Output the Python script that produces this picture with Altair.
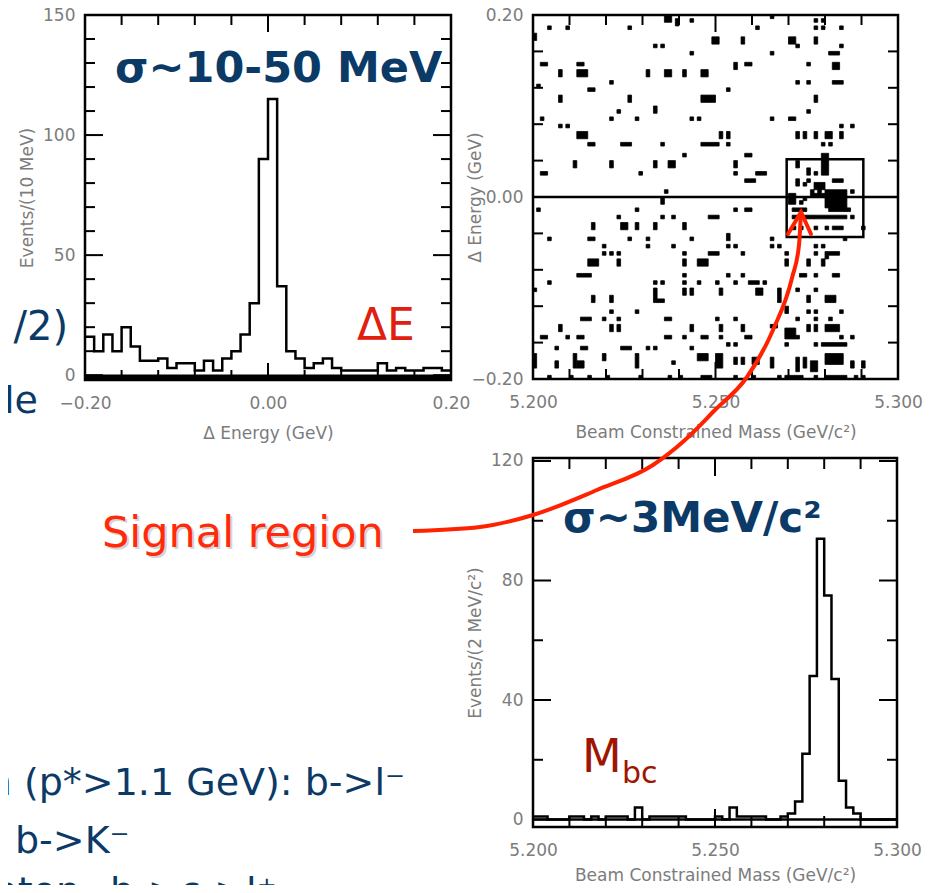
import altair as alt
import pandas as pd

W, H = 925, 877
FONT_ANN = "Comic Sans MS, DejaVu Sans"
AX_FONT = "DejaVu Sans"
AX_COL = "#7c7c7c"
NAVY = "#0b3a67"

# ---------------- data ----------------
# Delta E histogram: 10 MeV bins starting at -0.20 GeV
de_start = -0.20
de_width = 0.01
de_counts = [16, 10, 17, 10, 20, 12, 6, 6, 7, 3,
             5, 5, 2, 6, 2, 7, 10, 17, 30, 90,
             115, 37, 10, 7, 3, 5, 7, 3, 2, 2,
             2, 2, 5, 2, 3, 2, 2, 3, 3, 2]

# Mbc histogram: 2 MeV/c^2 bins starting at 5.200
mbc_start = 5.200
mbc_width = 0.002
mbc_counts = [1, 1, 0, 0, 0, 1, 1, 0, 1, 0,
              1, 1, 1, 0, 4, 0, 1, 1, 1, 1,
              1, 0, 0, 0, 0, 1, 0, 4, 1, 1,
              1, 1, 0, 0, 1, 2, 6, 22, 48, 94,
              75, 47, 13, 4, 2, 0, 0, 0, 0, 0]

# scatter cells (mass bin of 1 MeV, dE bin of 4 MeV, width, height in bins)
cells_upper_left = [
    (4, 96, 1, 1), (9, 96, 1, 1), (26, 96, 1, 1), (36, 98, 2, 2), (39, 97, 1, 2), (43, 98, 1, 1),
    (49, 92, 2, 2), (0, 93, 1, 2), (33, 91, 1, 1), (35, 91, 1, 1), (43, 89, 1, 1),
    (2, 86, 2, 1), (12, 86, 2, 1),
    (7, 83, 1, 2), (12, 83, 3, 2), (31, 83, 1, 2), (36, 83, 2, 2), (41, 83, 1, 2), (46, 83, 2, 2),
    (21, 81, 1, 1), (1, 80, 1, 1), (15, 79, 2, 1),
    (7, 76, 1, 2), (26, 76, 1, 2), (46, 76, 4, 2),
    (23, 73, 1, 1), (33, 73, 1, 2),
    (21, 71, 1, 1), (28, 71, 1, 1), (43, 71, 1, 1), (45, 71, 1, 1), (2, 71, 1, 1),
    (7, 69, 1, 1), (9, 69, 1, 1), (12, 66, 3, 2),
    (15, 64, 2, 1), (24, 64, 3, 1), (35, 64, 1, 1), (46, 64, 4, 1),
    (41, 61, 1, 1), (11, 58, 1, 2), (21, 58, 1, 2), (33, 58, 1, 2), (37, 58, 2, 2),
    (2, 56, 2, 1), (29, 56, 1, 1), (36, 51, 1, 1),
]
cells_upper_right = [
    (61, 96, 1, 1), (65, 99, 1, 1), (77, 98, 1, 1), (79, 98, 1, 1), (77, 96, 1, 1), (79, 96, 1, 1),
    (84, 96, 1, 1), (57, 92, 1, 2), (70, 92, 2, 2), (77, 92, 1, 2), (72, 91, 1, 1),
    (84, 91, 1, 1), (65, 89, 1, 1), (81, 89, 3, 1),
    (55, 85, 1, 2), (58, 86, 2, 1), (75, 86, 1, 1), (82, 85, 2, 2),
    (72, 81, 1, 1), (75, 81, 1, 1), (82, 81, 3, 1), (53, 79, 1, 1),
    (77, 76, 1, 2), (75, 73, 1, 1), (65, 71, 1, 1), (70, 71, 2, 1),
    (84, 69, 1, 1), (87, 69, 1, 1),
    (51, 66, 1, 2), (53, 66, 1, 2), (72, 66, 1, 2), (74, 66, 1, 2), (77, 66, 1, 2), (80, 66, 2, 2),
    (84, 66, 1, 2), (50, 64, 1, 1), (53, 64, 1, 1), (79, 64, 1, 1), (81, 64, 1, 1),
    (58, 61, 2, 1), (55, 58, 1, 2), (55, 56, 1, 1), (61, 56, 3, 1), (58, 54, 3, 1),
    (79, 56, 2, 6), (72, 58, 1, 2), (75, 56, 1, 2), (77, 56, 1, 1), (72, 54, 1, 1), (75, 54, 1, 1),
    (82, 54, 3, 1),
]
cells_signal = [
    (72, 53, 1, 1), (74, 53, 1, 1), (77, 52, 3, 2),
    (76, 50, 1, 2), (78, 50, 1, 2), (80, 50, 1, 2), (77, 50, 1, 1), (79, 50, 1, 1),
    (81, 46, 5, 6), (80, 47, 1, 3), (87, 51, 1, 1),
    (70, 48, 2, 3), (73, 48, 1, 1), (74, 49, 1, 1), (74, 46, 1, 1),
    (71, 46, 3, 1), (71, 44, 6, 1), (77, 44, 9, 1), (86, 46, 1, 1), (87, 44, 1, 1),
    (71, 41, 1, 1), (73, 41, 1, 1), (77, 41, 1, 1), (80, 41, 1, 1), (82, 41, 3, 1), (90, 41, 1, 1),
    (85, 38, 1, 1),
]
cells_lower_right = [
    (55, 46, 1, 1), (58, 46, 2, 1), (50, 44, 1, 1), (53, 38, 1, 2),
    (65, 38, 1, 1), (65, 36, 1, 1), (67, 36, 1, 1), (53, 36, 1, 1), (55, 36, 1, 1), (77, 36, 1, 1),
    (79, 36, 1, 1), (50, 34, 1, 1), (57, 34, 1, 1), (69, 34, 1, 1), (77, 34, 1, 1), (80, 34, 4, 1),
    (80, 33, 1, 1), (69, 31, 1, 2), (75, 31, 1, 2), (79, 31, 1, 2),
    (53, 28, 1, 1), (57, 28, 1, 1), (73, 28, 2, 1), (77, 28, 1, 1), (82, 28, 2, 1),
    (50, 26, 1, 1), (55, 26, 1, 1), (59, 26, 3, 1), (63, 26, 1, 1),
    (51, 23, 1, 2), (61, 23, 2, 2), (67, 21, 1, 4), (72, 24, 1, 1), (77, 24, 1, 1), (75, 21, 1, 2),
    (80, 21, 3, 2), (69, 18, 1, 2), (75, 18, 1, 1), (77, 18, 1, 1), (84, 18, 1, 1),
    (50, 16, 1, 1), (55, 16, 1, 1), (72, 16, 1, 1), (77, 16, 1, 1), (81, 16, 1, 1),
    (51, 13, 1, 2), (57, 13, 1, 2), (65, 14, 2, 1), (69, 11, 3, 3), (75, 13, 1, 2), (77, 13, 1, 2),
    (80, 13, 4, 2), (84, 11, 1, 1), (87, 11, 1, 1), (51, 11, 1, 1), (58, 11, 2, 1), (72, 11, 1, 1),
    (79, 9, 7, 1), (53, 9, 1, 1), (55, 9, 1, 1), (69, 9, 1, 1), (77, 9, 1, 1),
    (50, 3, 2, 4), (55, 4, 1, 2), (57, 4, 1, 2), (60, 4, 2, 2), (65, 3, 1, 3),
    (72, 2, 1, 4), (74, 3, 1, 3), (76, 2, 2, 3), (80, 4, 5, 3), (87, 3, 1, 2), (90, 3, 1, 2),
    (55, 0, 1, 1), (60, 0, 1, 1), (67, 0, 1, 1), (69, 0, 5, 1), (77, 0, 1, 1), (80, 0, 6, 1),
    (88, 0, 1, 1), (90, 0, 1, 1),
]
cells_lower_left = [
    (35, 48, 1, 2), (1, 46, 1, 1), (28, 46, 1, 1),
    (23, 44, 1, 1), (35, 44, 1, 1), (38, 44, 1, 1), (48, 44, 2, 1),
    (16, 41, 1, 2), (24, 41, 2, 2), (28, 41, 1, 2), (33, 41, 1, 2), (41, 41, 1, 2),
    (4, 38, 1, 1), (15, 38, 2, 1), (26, 38, 1, 1), (31, 38, 1, 1), (43, 38, 1, 1),
    (19, 36, 1, 1), (31, 36, 1, 1), (38, 36, 1, 1),
    (19, 34, 1, 1), (21, 34, 1, 1), (23, 34, 1, 1), (41, 34, 1, 1), (48, 34, 2, 1),
    (15, 31, 3, 2), (23, 31, 1, 2), (41, 31, 1, 2), (45, 31, 3, 2),
    (12, 28, 4, 1), (41, 28, 1, 1),
    (4, 26, 1, 1), (33, 26, 1, 1), (35, 26, 1, 1), (41, 26, 1, 1), (45, 26, 1, 1),
    (0, 24, 1, 1), (41, 23, 1, 2), (43, 23, 1, 2),
    (33, 21, 1, 4), (34, 21, 2, 1), (16, 21, 1, 2), (21, 21, 1, 2),
    (21, 18, 1, 1), (28, 18, 1, 1),
    (13, 16, 3, 1), (19, 16, 1, 1), (23, 16, 1, 1), (36, 16, 2, 1),
    (7, 13, 1, 2), (21, 13, 1, 2), (23, 13, 1, 2), (43, 13, 1, 2),
    (2, 11, 2, 1), (9, 11, 1, 1), (12, 11, 2, 1), (36, 11, 2, 1), (41, 11, 1, 1), (46, 11, 2, 1),
    (6, 8, 1, 1), (13, 8, 2, 1), (24, 8, 3, 1), (31, 8, 1, 1), (33, 8, 1, 1), (43, 8, 1, 1),
    (0, 3, 1, 4), (6, 3, 1, 2), (11, 3, 1, 4), (12, 3, 2, 2), (19, 5, 1, 2), (28, 3, 1, 4),
    (38, 4, 1, 1), (45, 5, 3, 2),
    (4, 0, 1, 1), (10, 0, 1, 1), (15, 0, 1, 1), (20, 0, 1, 1), (29, 0, 1, 1), (37, 0, 1, 1),
    (40, 0, 1, 1), (46, 0, 3, 1),
]
signal_box = {"m0": 5.2695, "m1": 5.2905, "d0": -0.044, "d1": 0.0415}

# tick values / labels
p1_xlabels = [-0.20, 0.00, 0.20]
p1_xminor = [-0.16, -0.12, -0.08, -0.04, 0.04, 0.08, 0.12, 0.16]
p1_xmajor = [0.0]
p1_ylabels = [0, 50, 100, 150]
p1_yminor = [10, 20, 30, 40, 60, 70, 80, 90, 110, 120, 130, 140]
m_xlabels = [5.200, 5.250, 5.300]
m_xminor = [5.21, 5.22, 5.23, 5.24, 5.26, 5.27, 5.28, 5.29]
m_xmajor = [5.25]
p2_ylabels = [-0.20, 0.00, 0.20]
p2_yminor = [-0.16, -0.12, -0.08, -0.04, 0.04, 0.08, 0.12, 0.16]
p2_ymajor = [0.0]
p3_ylabels = [0, 40, 80, 120]
p3_yminor = [20, 60, 100]

# arrow path (annotation, in pixel space of the canvas)
arrow_x = [405, 472, 525, 589, 645, 677, 707, 739, 765, 784, 791, 793]
arrow_y = [523, 519, 507, 482, 457, 432, 402, 369, 322, 270, 237, 204]
head_x = [780, 793, 803]
head_y = [226, 204, 226]

# ---------------- panel geometry ----------------
P1 = dict(xdom=[-0.2, 0.2], xr=[77, 443], ydom=[-2, 150], yr=[372, 7])
P2 = dict(xdom=[5.2, 5.3], xr=[525, 890], ydom=[-0.2, 0.2], yr=[371, 7])
P3 = dict(xdom=[5.2, 5.3], xr=[525, 889], ydom=[-2.5, 121], yr=[819, 450])
PIX = dict(xdom=[0, W], xr=[0, W], ydom=[0, H], yr=[0, H])


def sx(p):
    return alt.Scale(domain=p["xdom"], range=p["xr"], nice=False, zero=False)


def sy(p):
    return alt.Scale(domain=p["ydom"], range=p["yr"], nice=False, zero=False)


def step_df(start, width, counts):
    xs = [start + i * width for i in range(len(counts) + 1)]
    ys = list(counts) + [counts[-1]]
    return pd.DataFrame({"x": xs, "y": ys})


def hist(p, start, width, counts):
    return alt.Chart(step_df(start, width, counts)).mark_line(
        interpolate="step-after", color="black", strokeWidth=2.5
    ).encode(x=alt.X("x:Q", scale=sx(p), axis=None), y=alt.Y("y:Q", scale=sy(p), axis=None))


def ticks(p, side, vals, length, sw=2):
    n = len(vals)
    if side in ("bottom", "top"):
        b = p["ydom"][0] if side == "bottom" else p["ydom"][1]
        off = -length if side == "bottom" else length
        df = pd.DataFrame({"v": vals, "b": [b] * n})
        return alt.Chart(df).mark_rule(color="black", strokeWidth=sw, y2Offset=off).encode(
            x=alt.X("v:Q", scale=sx(p), axis=None),
            y=alt.Y("b:Q", scale=sy(p), axis=None), y2="b:Q")
    b = p["xdom"][0] if side == "left" else p["xdom"][1]
    off = length if side == "left" else -length
    df = pd.DataFrame({"v": vals, "b": [b] * n})
    return alt.Chart(df).mark_rule(color="black", strokeWidth=sw, x2Offset=off).encode(
        y=alt.Y("v:Q", scale=sy(p), axis=None),
        x=alt.X("b:Q", scale=sx(p), axis=None), x2="b:Q")


def frame(p, sw=2.5):
    df = pd.DataFrame({"x0": [p["xdom"][0]], "x1": [p["xdom"][1]],
                       "y0": [p["ydom"][0]], "y1": [p["ydom"][1]]})
    return alt.Chart(df).mark_rect(fillOpacity=0, stroke="black", strokeWidth=sw).encode(
        x=alt.X("x0:Q", scale=sx(p), axis=None), x2="x1:Q",
        y=alt.Y("y0:Q", scale=sy(p), axis=None), y2="y1:Q")


def hrule(p, yv, sw):
    df = pd.DataFrame({"x0": [p["xdom"][0]], "x1": [p["xdom"][1]], "y": [yv]})
    return alt.Chart(df).mark_rule(color="black", strokeWidth=sw).encode(
        x=alt.X("x0:Q", scale=sx(p), axis=None), x2="x1:Q",
        y=alt.Y("y:Q", scale=sy(p), axis=None))


def axes_layer(p, xvals, xfmt, xtitle, yvals, yfmt, ytitle, xtitle_dy=53):
    df = pd.DataFrame({"x": p["xdom"], "y": p["ydom"]})
    cx = (p["xr"][0] + p["xr"][1]) / 2
    cy = (p["yr"][0] + p["yr"][1]) / 2
    common = dict(ticks=False, tickSize=0, domain=False, grid=False,
                  labelFont=AX_FONT, labelFontSize=17, labelColor=AX_COL,
                  labelFlush=False, labelOverlap=False,
                  titleFont=AX_FONT, titleFontSize=17, titleFontWeight="normal",
                  titleColor=AX_COL, titleAlign="center", titleBaseline="middle")
    xaxis = alt.Axis(orient="bottom", offset=p["yr"][0] - H, values=xvals, format=xfmt,
                     labelPadding=15, title=xtitle, titleX=cx, titleY=xtitle_dy, **common)
    yaxis = alt.Axis(orient="left", offset=-p["xr"][0], values=yvals, format=yfmt,
                     labelPadding=10, title=ytitle, titleX=-58, titleY=cy, titleAngle=270,
                     **common)
    return alt.Chart(df).mark_point(opacity=0).encode(
        x=alt.X("x:Q", scale=sx(p), axis=xaxis), y=alt.Y("y:Q", scale=sy(p), axis=yaxis))


def all_ticks(p, xminor, xmajor, yminor, ymajor, xl=(10, 17), yl=(10, 18)):
    out = []
    for side in ("bottom", "top"):
        out.append(ticks(p, side, xminor, xl[0]))
        out.append(ticks(p, side, xmajor, xl[1]))
    for side in ("left", "right"):
        out.append(ticks(p, side, yminor, yl[0]))
        out.append(ticks(p, side, ymajor, yl[1]))
    return out


def text(t, x, y, size, color, weight="normal", align="left", font=FONT_ANN):
    return alt.Chart(pd.DataFrame({"t": [t]})).mark_text(
        align=align, baseline="alphabetic", fontSize=size, font=font,
        fontWeight=weight, color=color
    ).encode(x=alt.value(x), y=alt.value(y), text="t:N")


# ---------------- scatter table ----------------
cells = cells_upper_left + cells_upper_right + cells_signal + cells_lower_right + cells_lower_left
sc = pd.DataFrame(cells, columns=["cx", "cy", "w", "h"])
sc["m0"] = 5.2 + sc["cx"] * 0.001
sc["m1"] = sc["m0"] + sc["w"] * 0.001
sc["d0"] = -0.2 + sc["cy"] * 0.004
sc["d1"] = sc["d0"] + sc["h"] * 0.004

scatter = alt.Chart(sc).mark_rect(color="black", stroke="black", strokeWidth=0.8).encode(
    x=alt.X("m0:Q", scale=sx(P2), axis=None), x2="m1:Q",
    y=alt.Y("d0:Q", scale=sy(P2), axis=None), y2="d1:Q")

box = alt.Chart(pd.DataFrame([signal_box])).mark_rect(
    fillOpacity=0, stroke="black", strokeWidth=2.5).encode(
    x=alt.X("m0:Q", scale=sx(P2), axis=None), x2="m1:Q",
    y=alt.Y("d0:Q", scale=sy(P2), axis=None), y2="d1:Q")

arrow = alt.Chart(pd.DataFrame({"x": arrow_x, "y": arrow_y})).mark_line(
    interpolate="monotone", color="#ff2200", strokeWidth=4).encode(
    x=alt.X("x:Q", scale=sx(PIX), axis=None), y=alt.Y("y:Q", scale=sy(PIX), axis=None))
head = alt.Chart(pd.DataFrame({"x": head_x, "y": head_y, "o": [0, 1, 2]})).mark_line(
    color="#ff2200", strokeWidth=4, strokeCap="round", strokeJoin="miter").encode(
    x=alt.X("x:Q", scale=sx(PIX), axis=None), y=alt.Y("y:Q", scale=sy(PIX), axis=None),
    order="o:Q")

layers = []
# panel 1: Delta E
layers += [hist(P1, de_start, de_width, de_counts), hrule(P1, -0.8, 5)]
layers += all_ticks(P1, p1_xminor, p1_xmajor, p1_yminor, p1_ylabels)
layers += [frame(P1),
           axes_layer(P1, p1_xlabels, ".2f", "Δ Energy (GeV)", p1_ylabels, "d", "Events/(10 MeV)")]
# panel 2: scatter
layers += [scatter, hrule(P2, 0, 2.5), box]
layers += all_ticks(P2, m_xminor, m_xmajor, p2_yminor, p2_ymajor, xl=(10, 17), yl=(10, 10))
layers += [frame(P2),
           axes_layer(P2, m_xlabels, ".3f", "Beam Constrained Mass (GeV/c²)",
                      p2_ylabels, ".2f", "Δ Energy (GeV)")]
# panel 3: Mbc
layers += [hist(P3, mbc_start, mbc_width, mbc_counts), hrule(P3, 0, 2.5)]
layers += all_ticks(P3, m_xminor, m_xmajor, p3_yminor, p3_ylabels, xl=(11, 18), yl=(10, 18))
layers += [frame(P3),
           axes_layer(P3, m_xlabels, ".3f", "Beam Constrained Mass (GeV/c²)",
                      p3_ylabels, "d", "Events/(2 MeV/c²)", xtitle_dy=48)]

# annotations
layers += [
    text("σ~10-50 MeV", 107, 74, 43, NAVY, weight="bold"),
    text("ΔE", 349, 332, 44, "#e0200f"),
    text("/2)", 60, 332, 40, NAVY, align="right"),
    text("le", 30, 405, 38, NAVY, align="right"),
    text("Signal region", 96, 541, 43, "#d4d4d4"),
    text("Signal region", 94, 539, 43, "#ff2a0a"),
    text("σ~3MeV/c²", 555, 524, 42, NAVY, weight="bold"),
    text("M", 574, 764, 46, "#9e1600"),
    text("bc", 614, 775, 30, "#9e1600"),
    text("n (p*>1.1 GeV): b->l⁻", 397, 787, 38, NAVY, align="right"),
    text("b->K⁻", 7, 845, 38, NAVY),
    text("pton", 72, 896, 38, NAVY, align="right"),
    text("b->c->l⁺", 102, 896, 38, NAVY),
    arrow, head,
]

chart = alt.layer(*layers).resolve_scale(x="independent", y="independent").resolve_axis(
    x="independent", y="independent"
).properties(
    width=W, height=H, autosize=alt.AutoSizeParams(type="none"), padding=0,
    background="white"
).configure_view(stroke=None)

chart.save("out.html", embed_options={"renderer": "svg", "actions": False})
